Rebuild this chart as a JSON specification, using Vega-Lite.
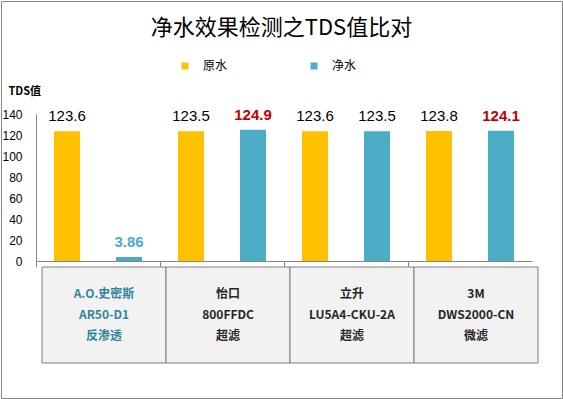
{
  "$schema": "https://vega.github.io/schema/vega-lite/v6.json",
  "background": "white",
  "autosize": {"type": "none"},
  "padding": 1,
  "width": 561,
  "height": 397,
  "title": {
    "text": "净水效果检测之TDS值比对",
    "font": "Noto Sans CJK SC",
    "fontSize": 22,
    "fontWeight": "normal",
    "color": "#000000",
    "anchor": "middle",
    "frame": "group",
    "offset": -39
  },
  "datasets": {
    "tds": [
      {"product": "A.O.史密斯\nAR50-D1\n反渗透", "type": "原水", "tds": 123.6, "change": "基准"},
      {"product": "A.O.史密斯\nAR50-D1\n反渗透", "type": "净水", "tds": 3.86, "change": "降低"},
      {"product": "怡口\n800FFDC\n超滤", "type": "原水", "tds": 123.5, "change": "基准"},
      {"product": "怡口\n800FFDC\n超滤", "type": "净水", "tds": 124.9, "change": "升高"},
      {"product": "立升\nLU5A4-CKU-2A\n超滤", "type": "原水", "tds": 123.6, "change": "基准"},
      {"product": "立升\nLU5A4-CKU-2A\n超滤", "type": "净水", "tds": 123.5, "change": "持平"},
      {"product": "3M\nDWS2000-CN\n微滤", "type": "原水", "tds": 123.8, "change": "基准"},
      {"product": "3M\nDWS2000-CN\n微滤", "type": "净水", "tds": 124.1, "change": "升高"}
    ]
  },
  "data": {"name": "tds"},
  "encoding": {
    "x": {
      "field": "product",
      "type": "nominal",
      "sort": null,
      "scale": {"range": [35, 531], "paddingInner": 0, "paddingOuter": 0},
      "axis": {
        "title": null,
        "labels": false,
        "bandPosition": 0,
        "tickSize": 6,
        "tickColor": "#868686",
        "domainColor": "#868686",
        "offset": -137
      }
    }
  },
  "layer": [
    {
      "encoding": {
        "xOffset": {
          "field": "type",
          "type": "nominal",
          "sort": ["原水", "净水"],
          "scale": {"paddingInner": 0.58, "paddingOuter": 0.29}
        },
        "y": {
          "field": "tds",
          "type": "quantitative",
          "scale": {"domain": [0, 140], "range": [260, 113]},
          "axis": {
            "title": "TDS值",
            "titleAngle": 0,
            "titleX": -28,
            "titleY": 90,
            "titleAlign": "left",
            "titleBaseline": "middle",
            "titleFontSize": 11,
            "titleFontWeight": "bold",
            "titleFont": "Noto Sans CJK SC",
            "titleColor": "#000000",
            "values": [0, 20, 40, 60, 80, 100, 120, 140],
            "grid": false,
            "ticks": false,
            "labelPadding": 14,
            "labelFontSize": 12,
            "labelFont": "Liberation Sans",
            "labelColor": "#000000",
            "domainColor": "#868686",
            "offset": -35
          }
        }
      },
      "layer": [
        {
          "mark": {"type": "bar"},
          "encoding": {
            "color": {
              "field": "type",
              "type": "nominal",
              "scale": {"domain": ["原水", "净水"], "range": ["#FFC000", "#4BACC6"]},
              "legend": {
                "title": null,
                "orient": "none",
                "legendX": 178,
                "legendY": 59,
                "direction": "horizontal",
                "symbolType": "square",
                "symbolSize": 49,
                "symbolStrokeWidth": 0,
                "labelFontSize": 12,
                "labelFont": "Noto Sans CJK SC",
                "labelColor": "#000000",
                "columnPadding": 80,
                "labelOffset": 12
              }
            }
          }
        },
        {
          "transform": [{"filter": "datum.change === '基准' || datum.change === '持平'"}],
          "mark": {"type": "text", "baseline": "bottom", "dy": -7, "fontSize": 15, "font": "Liberation Sans", "color": "#000000"},
          "encoding": {"text": {"field": "tds", "type": "quantitative"}}
        },
        {
          "transform": [{"filter": "datum.change === '升高' || datum.change === '降低'"}],
          "mark": {"type": "text", "baseline": "bottom", "dy": -7, "fontSize": 15, "font": "Liberation Sans", "fontWeight": "bold"},
          "encoding": {
            "text": {"field": "tds", "type": "quantitative"},
            "color": {"condition": {"test": "datum.change === '升高'", "value": "#C00000"}, "value": "#4BACC6"}
          }
        }
      ]
    },
    {
      "transform": [{"filter": "datum.type === '原水'"}],
      "encoding": {
        "y": {
          "field": "type",
          "type": "nominal",
          "scale": {"range": [266, 362], "paddingInner": 0, "paddingOuter": 0},
          "axis": null
        }
      },
      "layer": [
        {
          "mark": {"type": "rect", "fill": "#F2F2F2", "stroke": "#7F7F7F", "strokeWidth": 1, "xOffset": 6}
        },
        {
          "mark": {"type": "text", "lineBreak": "\n", "font": "Noto Sans CJK SC", "fontWeight": "bold", "fontSize": 12, "lineHeight": 21, "xOffset": 6, "dy": -21},
          "encoding": {
            "text": {"field": "product"},
            "color": {"condition": {"test": "indexof(datum.product, '反渗透') >= 0", "value": "#31859C"}, "value": "#262626"}
          }
        }
      ]
    }
  ],
  "resolve": {"scale": {"y": "independent"}, "axis": {"y": "independent"}},
  "config": {
    "view": {"stroke": "#868686", "strokeWidth": 1},
    "font": "Liberation Sans"
  }
}
